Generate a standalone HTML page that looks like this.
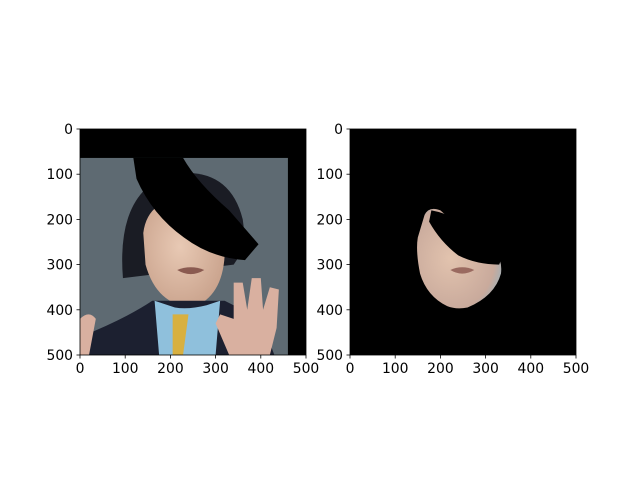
<!DOCTYPE html>
<html><head><meta charset="utf-8"><style>
body{margin:0;background:#fff}
svg{display:block;font-family:"DejaVu Sans","Liberation Sans",sans-serif}
</style></head><body>
<svg width="640" height="480" viewBox="0 0 640 480">
<defs>
<radialGradient id="skin" cx="0.45" cy="0.45" r="0.6"><stop offset="0" stop-color="#e8c9b4"/><stop offset="1" stop-color="#c9a28c"/></radialGradient>
<radialGradient id="skin2" cx="0.4" cy="0.5" r="0.65"><stop offset="0" stop-color="#e2c3ae"/><stop offset="0.8" stop-color="#c9aa9c"/><stop offset="1" stop-color="#9fb0b8"/></radialGradient>
</defs>
<g id="ax1">
<g transform="translate(80,129) scale(0.452)">
<rect x="0" y="0" width="500" height="500" fill="#5e6a72"/>
<path d="M95 330 Q80 140 200 100 Q330 80 360 200 Q370 260 340 300 Z" fill="#1a1c24"/>
<path d="M140 230 Q150 150 250 150 Q330 160 320 280 Q315 370 250 395 Q170 390 145 300 Z" fill="url(#skin)"/>
<path d="M0 500 L0 460 Q100 420 160 380 L320 380 L400 420 L430 500 Z" fill="#1c2030"/>
<path d="M165 380 L210 395 Q240 400 280 390 L310 380 L300 500 L175 500 Z" fill="#8fc0dc"/>
<path d="M205 410 L240 410 L228 500 L205 500 Z" fill="#d8b040"/>
<path d="M330 500 L300 430 L310 410 L340 420 L340 340 L360 340 L370 400 L380 330 L400 330 L405 400 L420 350 L440 355 L435 440 L420 500 Z" fill="#d9b0a0"/>
<path d="M0 500 L0 420 Q20 400 35 420 L20 500 Z" fill="#d9b0a0"/>
<path d="M215 312 Q245 300 275 312 Q245 330 215 312 Z" fill="#8a5a50"/>
<rect x="0" y="0" width="500" height="64" fill="#000"/>
<rect x="460" y="0" width="40" height="500" fill="#000"/>
<path d="M118 64 L228 64 Q260 120 330 180 L395 255 L365 290 Q290 285 230 240 Q160 190 125 110 Z" fill="#000"/>
</g>
<rect x="80" y="129" width="226" height="226" fill="none" stroke="#000" stroke-width="0.8"/>
</g>
<g id="ax2">
<g transform="translate(350,129) scale(0.452)">
<rect x="0" y="0" width="500" height="500" fill="#000"/>
<path d="M165 190 Q175 170 200 180 L290 260 Q340 270 334 320 Q320 370 260 395 Q235 400 215 392 Q170 370 155 320 Q145 270 150 240 Z" fill="url(#skin2)"/>
<path d="M180 180 Q240 190 300 250 L345 262 L330 300 Q280 300 240 280 Q200 250 175 205 Z" fill="#000"/>
<path d="M222 312 Q248 300 275 312 Q248 328 222 312 Z" fill="#9a6a60"/>
</g>
<rect x="350" y="129" width="226" height="226" fill="none" stroke="#000" stroke-width="0.8"/>
</g>
<g id="ticks" font-size="13.9" fill="#000"></g>
</svg>
<script>
const tickValues=[0,100,200,300,400,500];
const axesLeft=[80,350];
const axTop=129,axSize=226,extent=500;
const g=document.getElementById('ticks');
const NS='http://www.w3.org/2000/svg';
function sx(x0,v){return x0+v/extent*axSize;}
function sy(v){return axTop+v/extent*axSize;}
axesLeft.forEach((x0)=>{
 tickValues.forEach(v=>{
  const xl=document.createElementNS(NS,'line');
  xl.setAttribute('x1',sx(x0,v));xl.setAttribute('x2',sx(x0,v));
  xl.setAttribute('y1',axTop+axSize);xl.setAttribute('y2',axTop+axSize+3.5);
  xl.setAttribute('stroke','#000');xl.setAttribute('stroke-width','0.8');
  
  
  g.appendChild(xl);
  const xt=document.createElementNS(NS,'text');
  xt.setAttribute('x',sx(x0,v));xt.setAttribute('y',axTop+axSize+18);
  xt.setAttribute('text-anchor','middle');xt.textContent=v;
  
  
  g.appendChild(xt);
  const yl=document.createElementNS(NS,'line');
  yl.setAttribute('x1',x0-3.5);yl.setAttribute('x2',x0);
  yl.setAttribute('y1',sy(v));yl.setAttribute('y2',sy(v));
  yl.setAttribute('stroke','#000');yl.setAttribute('stroke-width','0.8');
  
  
  g.appendChild(yl);
  const yt=document.createElementNS(NS,'text');
  yt.setAttribute('x',x0-7);yt.setAttribute('y',sy(v)+5);
  yt.setAttribute('text-anchor','end');yt.textContent=v;
  
  
  g.appendChild(yt);
 });
});
</script>
</body></html>
